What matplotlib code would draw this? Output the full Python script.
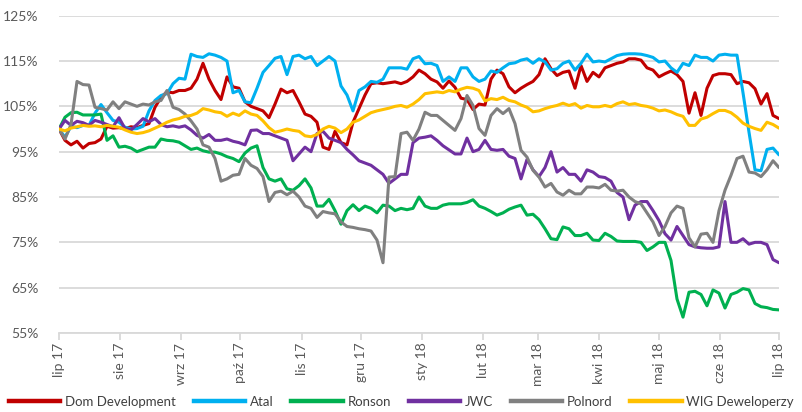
import matplotlib
matplotlib.use('Agg')
import matplotlib.pyplot as plt
from matplotlib.lines import Line2D
import pandas as pd

plt.rcParams['font.family'] = ['Lato', 'DejaVu Sans']

series_names = ["Dom Development", "Atal", "Ronson", "JWC", "Polnord", "WIG Deweloperzy"]
colors = ["#C00000", "#00B0F0", "#00B050", "#7030A0", "#808080", "#FFC000"]
month_labels = ["lip 17", "sie 17", "wrz 17", "paź 17", "lis 17", "gru 17", "sty 18",
                "lut 18", "mar 18", "kwi 18", "maj 18", "cze 18", "lip 18"]
y_ticks = [55, 65, 75, 85, 95, 105, 115, 125]

dom = [
    100, 97.5, 96.5, 97.3, 95.8, 96.8, 97.0, 97.8, 100.6, 100.2,
    100.3, 100.1, 100.5, 100.3, 100.8, 101.2, 104.8, 107.0, 108.2, 108.0,
    108.5, 108.5, 109.0, 111.0, 114.5, 111.0, 108.5, 106.5, 111.5, 109.3,
    109.0, 106.0, 105.0, 104.5, 104.0, 102.5, 105.5, 108.8, 108.0, 108.5,
    106.0, 103.3, 102.8, 101.5, 96.0, 95.5, 99.5, 97.0, 96.5, 101.5,
    104.5, 107.5, 110.0, 110.2, 110.0, 110.2, 110.4, 110.0, 110.5, 111.5,
    113.0, 112.2, 111.0, 110.4, 109.0, 110.6, 109.2, 106.8, 106.5, 104.3,
    105.5, 105.3, 111.0, 113.0, 112.2, 109.3, 108.0, 109.0, 109.8, 110.5,
    112.0, 115.5, 113.3, 111.8, 112.5, 112.8, 109.0, 114.0, 110.5, 112.5,
    111.5, 113.5, 114.0, 114.5, 114.8, 115.5, 115.5, 115.2, 113.5, 113.0,
    111.5, 112.2, 112.8, 112.0, 110.5, 103.5, 108.0, 103.0, 109.0, 111.8,
    112.2, 112.2, 112.0, 110.0, 110.5, 110.2, 108.9, 105.5, 107.8, 103.0,
    102.3]

atal = [
    100, 98.2, 100.6, 100.3, 100.8, 100.8, 103.5, 105.4, 103.6, 101.9,
    101.5, 100.4, 100.0, 100.1, 100.6, 104.0, 106.3, 107.4, 107.8, 110.0,
    111.2, 111.0, 116.5, 116.0, 115.8, 116.6, 116.3, 115.8, 115.0, 108.0,
    108.5, 106.0, 105.8, 109.0, 112.5, 114.0, 115.6, 116.0, 112.0, 116.0,
    116.3, 115.5, 116.0, 114.0, 115.0, 116.0, 115.0, 109.5, 107.5, 104.0,
    108.5, 109.3, 110.5, 110.3, 111.0, 113.5, 113.5, 113.5, 113.2, 115.5,
    116.0, 114.4, 114.5, 114.0, 110.5, 111.5, 110.5, 113.5, 113.5, 111.5,
    110.5, 111.0, 112.8, 112.5, 113.5, 114.4, 114.6, 115.2, 115.5, 114.5,
    115.5, 114.8, 113.0, 113.3, 114.5, 115.0, 113.0, 114.5, 116.5, 114.8,
    115.0, 114.8, 115.5, 116.2, 116.5, 116.6, 116.6, 116.5, 116.2, 115.8,
    114.8, 115.0, 113.5, 112.5, 114.5, 114.0, 116.3, 115.8, 115.8, 115.0,
    116.3, 116.5, 116.3, 116.3, 108.0, 99.3, 91.0, 90.8, 95.5, 95.8,
    94.3]

ronson = [
    100, 102.6, 103.6, 103.7, 103.1, 103.1, 103.1, 103.3, 97.5, 98.5,
    96.0, 96.2, 95.8, 95.0, 95.5, 96.0, 96.0, 97.8, 97.5, 97.4,
    97.1, 96.3, 95.5, 95.8, 95.2, 94.9, 94.9, 94.5, 93.9, 93.5,
    92.8, 94.7, 95.8, 96.3, 91.5, 89.0, 88.5, 89.0, 86.8, 86.5,
    87.5, 89.0, 87.0, 83.0, 83.0, 84.5, 82.0, 79.0, 82.0, 83.3,
    82.0, 83.0, 82.5, 81.5, 83.2, 83.0, 82.0, 82.5, 82.2, 82.5,
    85.0, 83.0, 82.5, 82.5, 83.2, 83.5, 83.5, 83.5, 83.8, 84.4,
    83.0, 82.5, 81.8, 81.0, 81.5, 82.3, 82.8, 83.2, 81.0, 81.2,
    80.0, 78.0, 75.8, 75.6, 78.4, 78.0, 76.5, 76.5, 77.0, 75.5,
    75.4, 77.0, 76.3, 75.3, 75.2, 75.2, 75.2, 75.0, 73.2, 74.0,
    75.0, 75.0, 71.0, 62.5, 58.5, 64.0, 64.2, 63.5, 61.0, 64.5,
    63.8, 60.5, 63.5, 64.0, 64.8, 64.5, 61.5, 60.8, 60.6, 60.2,
    60.1]

jwc = [
    100, 101.9, 100.8, 101.7, 101.4, 100.8, 101.9, 101.5, 101.0, 100.5,
    102.5, 100.1, 99.8, 101.0, 102.3, 101.6, 102.3, 101.0, 100.5, 100.7,
    100.4, 100.7, 99.8, 98.6, 98.0, 98.8, 97.5, 97.5, 97.8, 97.3,
    97.0, 96.5, 99.7, 99.8, 99.0, 99.0, 98.5, 98.0, 97.5, 93.0,
    94.5, 96.0, 95.0, 99.0, 99.5, 98.0, 97.5, 97.0, 95.5, 94.3,
    93.0, 92.5, 92.0, 91.0, 90.0, 88.0, 89.0, 90.0, 90.0, 97.0,
    98.0, 98.2, 98.5, 97.5, 96.3, 95.4, 94.5, 94.5, 98.0, 95.0,
    95.5, 97.5, 95.5, 95.3, 95.5, 94.0, 93.5, 89.0, 93.3, 91.0,
    89.5, 91.5, 95.0, 90.5, 91.5, 90.0, 90.0, 88.5, 91.0, 90.5,
    89.5, 89.3, 88.5, 86.0, 85.0, 80.0, 83.2, 84.0, 84.0, 82.0,
    79.8, 76.9, 75.5, 78.5, 76.5, 74.5, 74.0, 73.8, 73.7, 73.7,
    74.0, 84.0, 75.0, 75.0, 75.8, 74.6, 75.0, 75.0, 74.5, 71.2,
    70.5]

polnord = [
    100, 97.8, 101.0, 110.5, 109.8, 109.7, 104.8, 104.5, 104.2, 106.0,
    104.5, 106.0, 105.5, 105.0, 105.5, 105.3, 106.0, 106.3, 108.5, 104.8,
    104.3, 103.3, 101.8, 100.0, 96.5, 96.0, 93.5, 88.5, 89.0, 89.8,
    90.0, 93.5, 92.0, 91.3, 89.5, 84.0, 86.0, 86.3, 85.5, 86.3,
    85.0, 83.0, 82.5, 80.5, 81.8, 81.5, 81.3, 79.5, 78.5, 78.3,
    78.0, 77.8, 77.5, 75.5, 70.5, 89.4, 89.5, 99.0, 99.3, 97.5,
    100.0, 103.7, 103.0, 103.0, 101.9, 100.8, 99.7, 102.3, 107.4, 105.2,
    100.1, 98.6, 103.0, 104.5, 103.4, 104.5, 101.2, 95.3, 93.8, 90.9,
    89.4, 87.2, 88.0, 86.1, 85.4, 86.5, 85.7, 85.7, 87.2, 87.2,
    87.0, 87.8, 86.5, 86.3, 86.5, 85.0, 84.0, 83.5, 81.5, 79.5,
    76.5, 78.5, 81.5, 83.0, 82.5, 76.0, 74.0, 76.8, 77.0, 75.0,
    82.0, 86.5, 89.8, 93.5, 94.0, 90.5, 90.3, 89.5, 91.0, 93.0,
    91.5]

wig = [
    100, 99.6, 100.2, 100.5, 100.8, 100.6, 100.7, 100.5, 100.8, 100.6,
    100.4, 99.8, 99.3, 99.0, 99.2, 99.6, 100.2, 100.8, 101.5, 102.0,
    102.3, 102.8, 103.0, 103.5, 104.5, 104.2, 103.8, 103.6, 102.8, 103.5,
    103.0, 104.0, 103.3, 103.0, 101.8, 100.3, 99.3, 99.6, 100.0, 99.7,
    99.5, 98.5, 98.3, 98.8, 100.0, 100.6, 100.2, 99.2, 100.0, 101.5,
    102.0, 102.8, 103.6, 104.0, 104.3, 104.6, 105.0, 105.2, 104.8, 105.5,
    106.5, 107.8, 108.0, 108.2, 108.0, 108.5, 108.2, 108.8, 109.2, 109.0,
    108.5, 106.2, 106.7, 106.5, 107.0, 106.3, 106.0, 105.3, 104.8, 103.8,
    104.0, 104.5, 104.9, 105.2, 105.7, 105.2, 105.6, 104.6, 105.2, 104.9,
    104.9, 105.2, 104.9, 105.6, 106.0, 105.4, 105.6, 105.2, 105.0, 104.6,
    104.0, 104.2, 103.8, 103.2, 102.8, 100.8, 100.8, 102.2, 102.6, 103.4,
    104.1, 104.1, 103.6, 102.6, 101.3, 100.6, 100.1, 99.7, 101.5, 101.0,
    100.2]

dates = pd.date_range('2017-07-01', '2018-07-01', periods=len(dom))
all_series = [dom, atal, ronson, jwc, polnord, wig]

W, H = 803, 412
fig = plt.figure(figsize=(W / 100, H / 100), dpi=100)
ax = fig.add_axes([59 / W, (H - 333) / H, 720 / W, (333 - 15.7) / H])

for vals, color in zip(all_series, colors):
    ax.plot(dates, vals, color=color, lw=2.2, solid_joinstyle='round', solid_capstyle='round')

ax.set_ylim(55, 125)
ax.set_yticks(y_ticks)
ax.set_yticklabels([f"{v}%" for v in y_ticks])
ax.set_xlim(pd.Timestamp('2017-07-01'), pd.Timestamp('2018-07-01'))
month_ticks = pd.date_range('2017-07-01', '2018-07-01', freq='MS')
ax.set_xticks(month_ticks)
ax.set_xticklabels(month_labels, rotation=90)

ax.grid(axis='y', color='#D9D9D9', lw=1.3)
ax.set_axisbelow(True)
for s in ['left', 'right', 'top']:
    ax.spines[s].set_visible(False)
ax.spines['bottom'].set_color('#D9D9D9')
ax.spines['bottom'].set_linewidth(1.3)
ax.tick_params(axis='y', length=0, pad=15, labelcolor='#595959', labelsize=10)
ax.tick_params(axis='x', length=5, color='#D9D9D9', width=1.3, pad=2,
               labelcolor='#595959', labelsize=10)

handles = [Line2D([0], [0], color=c, lw=3.2) for c in colors]
fig.legend(handles, series_names, loc='center', bbox_to_anchor=(0.5, 10 / H), ncol=6,
           frameon=False, handlelength=3.9, handletextpad=0.35, columnspacing=1.35,
           fontsize=9.5, labelcolor='#404040', borderpad=0, borderaxespad=0)

fig.savefig('out.png', dpi=100)
